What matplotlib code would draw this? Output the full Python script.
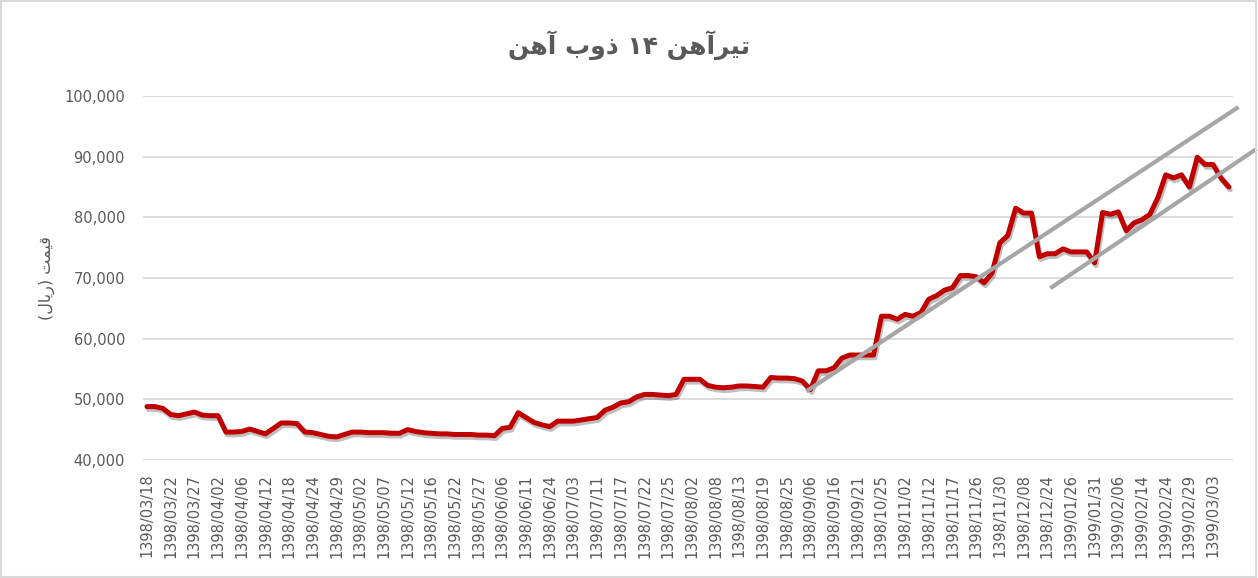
import matplotlib
matplotlib.use("Agg")
import matplotlib.pyplot as plt
import matplotlib.patheffects as pe
from matplotlib.patches import Rectangle
import numpy as np

# price series (rial), one value per observation
prices = [48800, 48800, 48500, 47500, 47300, 47600, 47900, 47400, 47300, 47300,
          44600, 44600, 44700, 45100, 44700, 44300, 45200, 46100, 46100, 46000,
          44600, 44500, 44200, 43900, 43800, 44200, 44600, 44600, 44500, 44500,
          44500, 44400, 44400, 45000, 44700, 44500, 44400, 44300, 44300, 44200,
          44200, 44200, 44100, 44100, 44000, 45200, 45400, 47800, 47000, 46200,
          45800, 45500, 46400, 46400, 46400, 46600, 46800, 47000, 48200, 48700,
          49400, 49600, 50400, 50800, 50800, 50700, 50600, 50800, 53300, 53300,
          53300, 52300, 52000, 51900, 52000, 52200, 52200, 52100, 52000, 53600,
          53500, 53500, 53400, 53000, 51600, 54700, 54700, 55200, 56800, 57300,
          57300, 57300, 57300, 63700, 63700, 63200, 64000, 63700, 64300, 66500,
          67100, 68000, 68400, 70400, 70400, 70200, 69200, 70800, 75800, 77000,
          81500, 80700, 80700, 73500, 74000, 74000, 74800, 74300, 74300, 74300,
          72500, 80800, 80500, 80900, 77800, 79100, 79600, 80500, 83200, 87000,
          86500, 87000, 85000, 89900, 88700, 88700, 86500, 85000]

tick_labels = ["1398/03/18", "1398/03/22", "1398/03/27", "1398/04/02", "1398/04/06",
               "1398/04/12", "1398/04/18", "1398/04/24", "1398/04/29", "1398/05/02",
               "1398/05/07", "1398/05/12", "1398/05/16", "1398/05/22", "1398/05/27",
               "1398/06/06", "1398/06/11", "1398/06/24", "1398/07/03", "1398/07/11",
               "1398/07/17", "1398/07/22", "1398/07/25", "1398/08/02", "1398/08/08",
               "1398/08/13", "1398/08/19", "1398/08/25", "1398/09/06", "1398/09/16",
               "1398/09/21", "1398/10/25", "1398/11/02", "1398/11/12", "1398/11/17",
               "1398/11/26", "1398/11/30", "1398/12/08", "1398/12/24", "1399/01/26",
               "1399/01/31", "1399/02/06", "1399/02/14", "1399/02/24", "1399/02/29",
               "1399/03/03"]
label_step = 3

# hand drawn channel lines (x in observation index, y in rial)
upper_x = [83.7, 138.0]
upper_y = [51500, 98000]
lower_x = [114.6, 140.3]
lower_y = [68500, 91100]

# Persian text, pre-shaped in visual order (matplotlib has no bidi/shaping)
title_txt = "\uFEE6\uFEEB\uFE81 \uFE8F\uFEED\uFEAB \u06F1\u06F4 \uFEE6\uFEEB\uFE81\uFEAE\uFEF4\uFE97"
ylabel_txt = "(\uFEDD\uFE8E\uFEF3\uFEAD) \uFE96\uFEE4\uFEF4\uFED7"

txt_col = "#595959"
grid_col = "#D9D9D9"

fig = plt.figure(figsize=(12.58, 5.78), dpi=100)
ax = fig.add_axes([0.1137, 0.2042, 0.980 - 0.1137, 0.8339 - 0.2042])

x = np.arange(len(prices))
ax.plot(x, prices, color="#C00000", lw=3.6, solid_joinstyle="round",
        solid_capstyle="round", zorder=3,
        path_effects=[pe.SimpleLineShadow(offset=(1, -2), shadow_color="k", alpha=0.25),
                      pe.Normal()])
ax.plot(upper_x, upper_y, color="#A6A6A6", lw=3, clip_on=False, zorder=4)
ax.plot(lower_x, lower_y, color="#A6A6A6", lw=3, clip_on=False, zorder=4)

ax.set_xlim(-0.5, len(prices) - 0.5)
ax.set_ylim(40000, 100000)
ax.set_yticks(np.arange(40000, 100001, 10000))
ax.yaxis.set_major_formatter(matplotlib.ticker.FuncFormatter(lambda v, p: f"{int(v):,}"))
ax.set_xticks(np.arange(len(tick_labels)) * label_step)
ax.set_xticklabels(tick_labels, rotation=90)
ax.tick_params(axis="both", length=0, colors=txt_col, labelsize=10.5)
ax.tick_params(axis="y", pad=13)
ax.tick_params(axis="x", pad=10)
ax.grid(axis="y", color=grid_col, lw=1.3)
ax.set_axisbelow(True)
for s in ax.spines.values():
    s.set_visible(False)

ax.set_ylabel(ylabel_txt, color=txt_col, fontsize=11.5, labelpad=7)
fig.text(0.5, 0.922, title_txt, ha="center", va="center", fontsize=18,
         fontweight="bold", color=txt_col)

fig.patches.append(Rectangle((0.0005, 0.001), 0.998, 0.997, transform=fig.transFigure,
                             fill=False, edgecolor=grid_col, lw=1.5))

fig.savefig("out.png", dpi=100)
